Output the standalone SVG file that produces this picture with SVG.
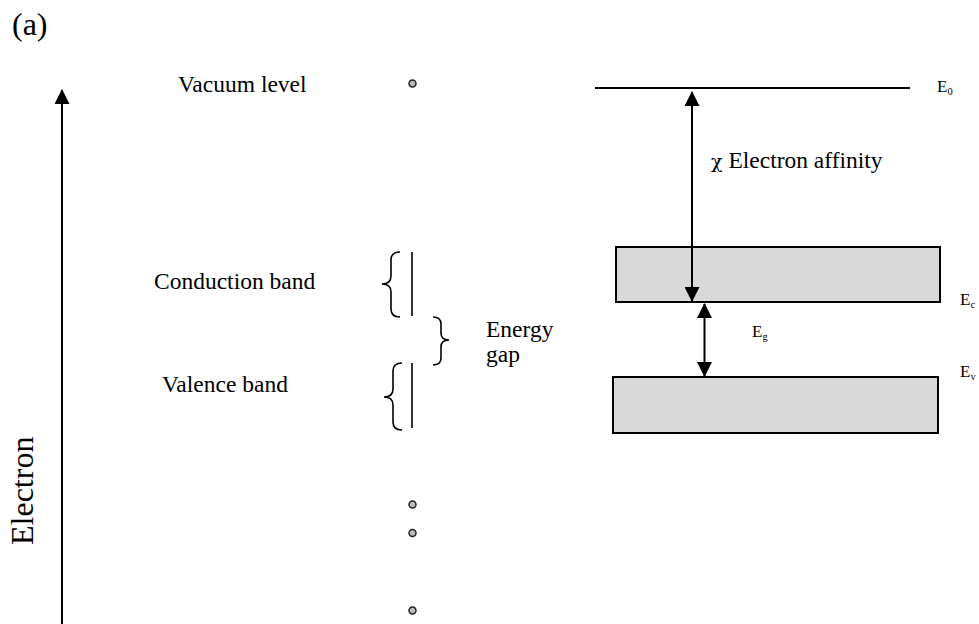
<svg xmlns="http://www.w3.org/2000/svg" width="979" height="624" viewBox="0 0 979 624">
<defs>
<style>
text{font-family:"Liberation Serif","Times New Roman",serif;fill:#000}
.lbl{font-size:23.5px}
.sym{font-size:17px}
.sub{font-size:10.5px}
.ln{stroke:#000;stroke-width:2;fill:none}
.band{fill:#d9d9d9;stroke:#000;stroke-width:2}
.br{stroke:#000;stroke-width:1.6;fill:none}
.dot{fill:#bbbbbb;stroke:#222;stroke-width:1.5}
</style>
<marker id="ah" viewBox="0 0 15 15" markerWidth="15" markerHeight="15" refX="14" refY="7.5" orient="auto-start-reverse" markerUnits="userSpaceOnUse">
<path d="M0,0 L15,7.5 L0,15 z" fill="#000"/>
</marker>
</defs>
<rect width="979" height="624" fill="#fff"/>
<text x="12" y="35" style="font-size:32px">(a)</text>
<text transform="translate(33,545) rotate(-90)" style="font-size:32px">Electron</text>
<g id="vacuum">
<text class="lbl" x="178" y="92">Vacuum level</text>
<circle class="dot" cx="412.5" cy="83.5" r="3.5"/>
</g>
<g id="conduction-label">
<text class="lbl" x="154" y="289">Conduction band</text>
<path class="br" d="M400,252 Q391,252 391,260 L391,276 Q391,284 382,284 Q391,284 391,292 L391,309 Q391,317 400,317"/>
<line class="ln" x1="412" y1="252" x2="412" y2="316" style="stroke-width:1.6"/>
</g>
<g id="gap-label">
<path class="br" d="M433,317 Q441,317 441,324 L441,333 Q441,340 449,340 Q441,340 441,347 L441,358 Q441,365 433,365"/>
<text class="lbl" x="486" y="337">Energy</text>
<text class="lbl" x="486" y="362">gap</text>
</g>
<g id="valence-label">
<text class="lbl" x="162" y="392">Valence band</text>
<path class="br" d="M402,363 Q393,363 393,371 L393,389 Q393,397 384,397 Q393,397 393,405 L393,422 Q393,430 402,430"/>
<line class="ln" x1="412" y1="363" x2="412" y2="428" style="stroke-width:1.6"/>
</g>
<g id="dots">
<circle class="dot" cx="412.5" cy="504.5" r="3.5"/>
<circle class="dot" cx="412.5" cy="533" r="3.5"/>
<circle class="dot" cx="412.5" cy="610.5" r="3.5"/>
</g>
<g id="vacuum-level">
<line class="ln" x1="595" y1="88" x2="910" y2="88"/>
<text class="sym" x="937" y="92">E<tspan class="sub" dy="3">0</tspan></text>
</g>
<g id="conduction-band">
<rect class="band" x="616" y="247" width="324" height="55"/>
<text class="sym" x="960" y="305">E<tspan class="sub" dy="3">c</tspan></text>
</g>
<g id="valence-band">
<rect class="band" x="613" y="377" width="325" height="56"/>
<text class="sym" x="960" y="377">E<tspan class="sub" dy="3">v</tspan></text>
</g>
<g id="connectors">
<line class="ln" x1="62" y1="624" x2="62" y2="90" marker-end="url(#ah)"/>
<line class="ln" x1="692" y1="92" x2="692" y2="301" marker-start="url(#ah)" marker-end="url(#ah)"/>
<line class="ln" x1="704.5" y1="304" x2="704.5" y2="376" marker-start="url(#ah)" marker-end="url(#ah)"/>
</g>
<text class="lbl" x="711" y="168"><tspan font-family="DejaVu Serif" style="font-size:19px">χ</tspan> Electron affinity</text>
<text class="sym" x="752" y="337">E<tspan class="sub" dy="3">g</tspan></text>
</svg>
